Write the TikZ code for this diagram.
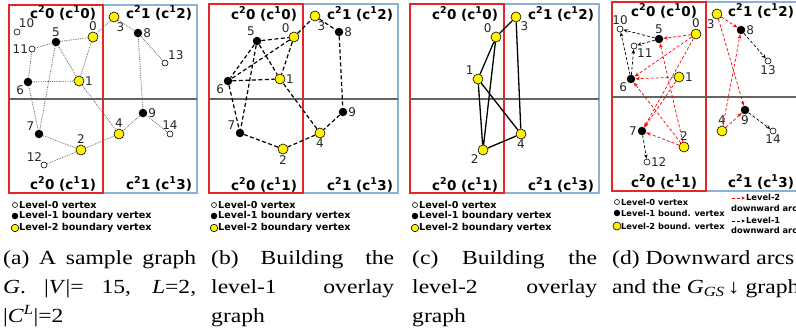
\documentclass[tikz,border=0pt]{standalone}
\usepackage{fontspec}
\setmainfont{Liberation Serif}
\newfontfamily\capfont[FakeStretch=1.18]{Liberation Serif}
\newfontfamily\sansfont{DejaVu Sans}
\usetikzlibrary{arrows.meta}
\definecolor{cellred}{RGB}{232,36,40}
\definecolor{cellblue}{RGB}{140,176,214}
\definecolor{midgray}{RGB}{100,100,100}
\newcommand{\cellname}[2]{c\textsuperscript{2}#1 (c\textsuperscript{1}#2)}
\begin{document}
\begin{tikzpicture}[x=1pt,y=-1pt,
  lvzero/.style={circle,draw,fill=white,line width=0.6pt,inner sep=0pt,minimum size=6pt},
  lvone/.style={circle,fill=black,inner sep=0pt,minimum size=8.5pt},
  lvtwo/.style={circle,draw,fill=yellow,line width=0.6pt,inner sep=0pt,minimum size=10pt},
  vnum/.style={font=\sansfont\fontsize{12}{13}\selectfont,text=black!85,inner sep=0.6pt},
  cell/.style={font=\sansfont\bfseries\fontsize{13.5}{14}\selectfont,anchor=base,inner sep=0pt},
  legtext/.style={font=\sansfont\bfseries\fontsize{9.6}{10}\selectfont,anchor=west,inner sep=0pt},
  caption/.style={font=\capfont\fontsize{20}{22}\selectfont,anchor=base west,inner sep=0pt},
  gedge/.style={densely dotted,line width=0.8pt,black!60},
  ovone/.style={dash pattern=on 4pt off 2.5pt,line width=1.2pt},
  ovtwo/.style={line width=1.3pt},
  downtwo/.style={red,dash pattern=on 3pt off 2pt,line width=0.7pt,-{Stealth[length=4.5pt,width=3.5pt]}},
  downone/.style={black,dash pattern=on 3pt off 2pt,line width=0.7pt,-{Stealth[length=4.5pt,width=3.5pt]}}]
\useasboundingbox (0,0) rectangle (796,333);
\clip (0,0) rectangle (796,333);

% (a) sample graph
\draw[cellblue,line width=1.4pt] (103,5) rectangle (197,193);
\draw[cellred,line width=1.4pt] (9,5) rectangle (103,193);
\draw[midgray,line width=1.3pt] (9,99) -- (197,99);
\node[cell] (ta0) at (63,18) {\cellname{0}{0}};
\node[cell] (ta1) at (159,18) {\cellname{1}{2}};
\node[cell] (ta2) at (63,189) {\cellname{0}{1}};
\node[cell] (ta3) at (159,189) {\cellname{1}{3}};
\node[lvtwo,label={[vnum]above:0}] (a0) at (93,37) {};
\node[lvtwo,label={[vnum]right:1}] (a1) at (79,81) {};
\node[lvtwo,label={[vnum]above:2}] (a2) at (81,150) {};
\node[lvtwo,label={[vnum]-70:3}] (a3) at (114,17) {};
\node[lvtwo,label={[vnum]above:4}] (a4) at (119,134) {};
\node[lvone,label={[vnum]above:5}] (a5) at (56,42) {};
\node[lvone,label={[vnum]below left:6}] (a6) at (28,82) {};
\node[lvone,label={[vnum]150:7}] (a7) at (39,134) {};
\node[lvone,label={[vnum]right:8}] (a8) at (138,33) {};
\node[lvone,label={[vnum]right:9}] (a9) at (143,113) {};
\node[lvzero,label={[vnum]70:10}] (a10) at (17,32) {};
\node[lvzero,label={[vnum]left:11}] (a11) at (32,49) {};
\node[lvzero,label={[vnum]110:12}] (a12) at (44,165) {};
\node[lvzero,label={[vnum]45:13}] (a13) at (165,63) {};
\node[lvzero,label={[vnum]above:14}] (a14) at (170,134) {};
\draw[gedge] (a11) -- (a5) (a11) -- (a6) (a5) -- (a0) (a5) -- (a1) (a5) -- (a7)
  (a6) -- (a1) (a6) -- (a7) (a0) -- (a1) (a0) -- (a3) (a3) -- (a8) (a8) -- (a13)
  (a8) -- (a9) (a9) -- (a14) (a9) -- (a4) (a1) -- (a4) (a4) -- (a2) (a2) -- (a7)
  (a2) -- (a12);

% (b) level-1 overlay
\draw[cellblue,line width=1.4pt] (303,4) rectangle (398,193);
\draw[cellred,line width=1.4pt] (209,4) rectangle (303,193);
\draw[midgray,line width=1.3pt] (209,99) -- (398,99);
\node[cell] (tb0) at (264,19) {\cellname{0}{0}};
\node[cell] (tb1) at (360,19) {\cellname{1}{2}};
\node[cell] (tb2) at (264,190) {\cellname{0}{1}};
\node[cell] (tb3) at (360,190) {\cellname{1}{3}};
\node[lvtwo,label={[vnum]above left:0}] (b0) at (294,37) {};
\node[lvtwo,label={[vnum]right:1}] (b1) at (280,79) {};
\node[lvtwo,label={[vnum]below:2}] (b2) at (283,149) {};
\node[lvtwo,label={[vnum]-70:3}] (b3) at (315,16) {};
\node[lvtwo,label={[vnum]below:4}] (b4) at (320,133) {};
\node[lvone,label={[vnum]110:5}] (b5) at (257,41) {};
\node[lvone,label={[vnum]below left:6}] (b6) at (228,81) {};
\node[lvone,label={[vnum]150:7}] (b7) at (240,133) {};
\node[lvone,label={[vnum]right:8}] (b8) at (339,32) {};
\node[lvone,label={[vnum]right:9}] (b9) at (343,112) {};
\draw[ovone] (b5) -- (b0) (b5) -- (b6) (b5) -- (b1) (b5) -- (b7) (b0) -- (b6)
  (b0) -- (b1) (b6) -- (b1) (b6) -- (b7) (b0) -- (b3) (b3) -- (b8) (b8) -- (b9)
  (b9) -- (b4) (b4) -- (b1) (b4) -- (b2) (b2) -- (b7);

% (c) level-2 overlay
\draw[cellblue,line width=1.4pt] (504,4) rectangle (599,193);
\draw[cellred,line width=1.4pt] (410,4) rectangle (504,193);
\draw[midgray,line width=1.3pt] (410,99) -- (599,99);
\node[cell] (tc0) at (465,19) {\cellname{0}{0}};
\node[cell] (tc1) at (561,19) {\cellname{1}{2}};
\node[cell] (tc2) at (465,190) {\cellname{0}{1}};
\node[cell] (tc3) at (561,190) {\cellname{1}{3}};
\node[lvtwo,label={[vnum]above left:0}] (c0) at (496,37) {};
\node[lvtwo,label={[vnum]above left:1}] (c1) at (478,79) {};
\node[lvtwo,label={[vnum]below left:2}] (c2) at (483,150) {};
\node[lvtwo,label={[vnum]below right:3}] (c3) at (516,17) {};
\node[lvtwo,label={[vnum]below:4}] (c4) at (521,134) {};
\draw[ovtwo] (c0) -- (c3) (c0) -- (c1) (c0) -- (c2) (c1) -- (c2) (c1) -- (c4)
  (c3) -- (c4) (c2) -- (c4);

% (d) downward arcs
\draw[cellblue,line width=1.4pt] (706,2) rectangle (820,191);
\draw[cellred,line width=1.4pt] (612,2) rectangle (706,191);
\draw[midgray,line width=1.3pt] (612,97) -- (820,97);
\node[cell] (td0) at (664,16) {\cellname{0}{0}};
\node[cell] (td1) at (761,16) {\cellname{1}{2}};
\node[cell] (td2) at (664,187) {\cellname{0}{1}};
\node[cell] (td3) at (761,187) {\cellname{1}{3}};
\node[lvtwo,label={[vnum]above:0}] (d0) at (696,34) {};
\node[lvtwo,label={[vnum]right:1}] (d1) at (679,77) {};
\node[lvtwo,label={[vnum]above:2}] (d2) at (684,147) {};
\node[lvtwo,label={[vnum]-110:3}] (d3) at (717,14) {};
\node[lvtwo,label={[vnum]above:4}] (d4) at (722,131) {};
\node[lvone,label={[vnum]above:5}] (d5) at (659,39) {};
\node[lvone,label={[vnum]below left:6}] (d6) at (631,79) {};
\node[lvone,label={[vnum]left:7}] (d7) at (642,131) {};
\node[lvone,label={[vnum]right:8}] (d8) at (741,30) {};
\node[lvone,label={[vnum]below:9}] (d9) at (745,110) {};
\node[lvzero,label={[vnum]above:10}] (d10) at (620,29) {};
\node[lvzero,label={[vnum]-45:11}] (d11) at (634,46) {};
\node[lvzero,label={[vnum]right:12}] (d12) at (647,162) {};
\node[lvzero,label={[vnum]below:13}] (d13) at (768,61) {};
\node[lvzero,label={[vnum]below:14}] (d14) at (773,131) {};
\foreach \s/\t in {0/5,0/6,0/7,1/6,1/7,2/5,2/6,2/7,3/8,3/9,4/8,4/9}
  \draw[downtwo] (d\s) -- (d\t);
\foreach \s/\t in {5/10,5/11,6/10,6/11,7/12,8/13,9/14}
  \draw[downone] (d\s) -- (d\t);

% legends
\node[lvzero,minimum size=5pt] (la0) at (15,205) {};
\node[lvone,minimum size=6.5pt] (la1) at (15,216) {};
\node[lvtwo,minimum size=7.5pt] (la2) at (15,228) {};
\node[legtext] (lta0) at (19,205) {Level-0 vertex};
\node[legtext] (lta1) at (19,216) {Level-1 boundary vertex};
\node[legtext] (lta2) at (19,228) {Level-2 boundary vertex};
\node[lvzero,minimum size=5pt] (lb0) at (214,205) {};
\node[lvone,minimum size=6.5pt] (lb1) at (214,216) {};
\node[lvtwo,minimum size=7.5pt] (lb2) at (214,228) {};
\node[legtext] (ltb0) at (218,205) {Level-0 vertex};
\node[legtext] (ltb1) at (218,216) {Level-1 boundary vertex};
\node[legtext] (ltb2) at (218,228) {Level-2 boundary vertex};
\node[lvzero,minimum size=5pt] (lc0) at (415,205) {};
\node[lvone,minimum size=6.5pt] (lc1) at (415,216) {};
\node[lvtwo,minimum size=7.5pt] (lc2) at (415,228) {};
\node[legtext] (ltc0) at (419,205) {Level-0 vertex};
\node[legtext] (ltc1) at (419,216) {Level-1 boundary vertex};
\node[legtext] (ltc2) at (419,228) {Level-2 boundary vertex};
\node[lvzero,minimum size=5pt] (ld0) at (617,202) {};
\node[lvone,minimum size=6.5pt] (ld1) at (617,213) {};
\node[lvtwo,minimum size=8pt] (ld2) at (617,226) {};
\node[legtext,font=\sansfont\bfseries\fontsize{8.3}{9}\selectfont] (ltd0) at (621,202) {Level-0 vertex};
\node[legtext,font=\sansfont\bfseries\fontsize{8.3}{9}\selectfont] (ltd1) at (621,213) {Level-1 bound. vertex};
\node[legtext,font=\sansfont\bfseries\fontsize{8.3}{9}\selectfont] (ltd2) at (621,226) {Level-2 bound. vertex};
\coordinate (ar0) at (732,198);
\coordinate (ar1) at (745,198);
\coordinate (ak0) at (732,221);
\coordinate (ak1) at (745,221);
\draw[downtwo,-{Stealth[length=3.5pt,width=3pt]}] (ar0) -- (ar1);
\draw[downone,-{Stealth[length=3.5pt,width=3pt]}] (ak0) -- (ak1);
\node[legtext,font=\sansfont\bfseries\fontsize{8.3}{9}\selectfont] (ltd3) at (746,197) {Level-2};
\node[legtext,font=\sansfont\bfseries\fontsize{8.3}{9}\selectfont] (ltd4) at (731,208) {downward arcs};
\node[legtext,font=\sansfont\bfseries\fontsize{8.3}{9}\selectfont] (ltd5) at (746,220) {Level-1};
\node[legtext,font=\sansfont\bfseries\fontsize{8.3}{9}\selectfont] (ltd6) at (731,230) {downward arcs};

% captions
\node[caption] (capa1) at (3,264) {\makebox[193pt][s]{(a) A sample graph}};
\node[caption] (capa2) at (3,293) {\makebox[193pt][s]{\textit{G}. |\textit{V}|= 15, \textit{L}=2,}};
\node[caption] (capa3) at (3,322) {|\textit{C}\textsuperscript{\textit{L}}|=2};
\node[caption] (capb1) at (211,264) {\makebox[183pt][s]{(b) Building the}};
\node[caption] (capb2) at (211,293) {\makebox[183pt][s]{level-1 overlay}};
\node[caption] (capb3) at (211,322) {graph};
\node[caption] (capc1) at (412,264) {\makebox[185pt][s]{(c) Building the}};
\node[caption] (capc2) at (412,293) {\makebox[185pt][s]{level-2 overlay}};
\node[caption] (capc3) at (412,322) {graph};
\node[caption] (capd1) at (612,264) {(d) Downward arcs};
\node[caption] (capd2) at (612,293) {and the \textit{G}\textsubscript{\textit{GS}}\,↓ graph};
\end{tikzpicture}
\end{document}
